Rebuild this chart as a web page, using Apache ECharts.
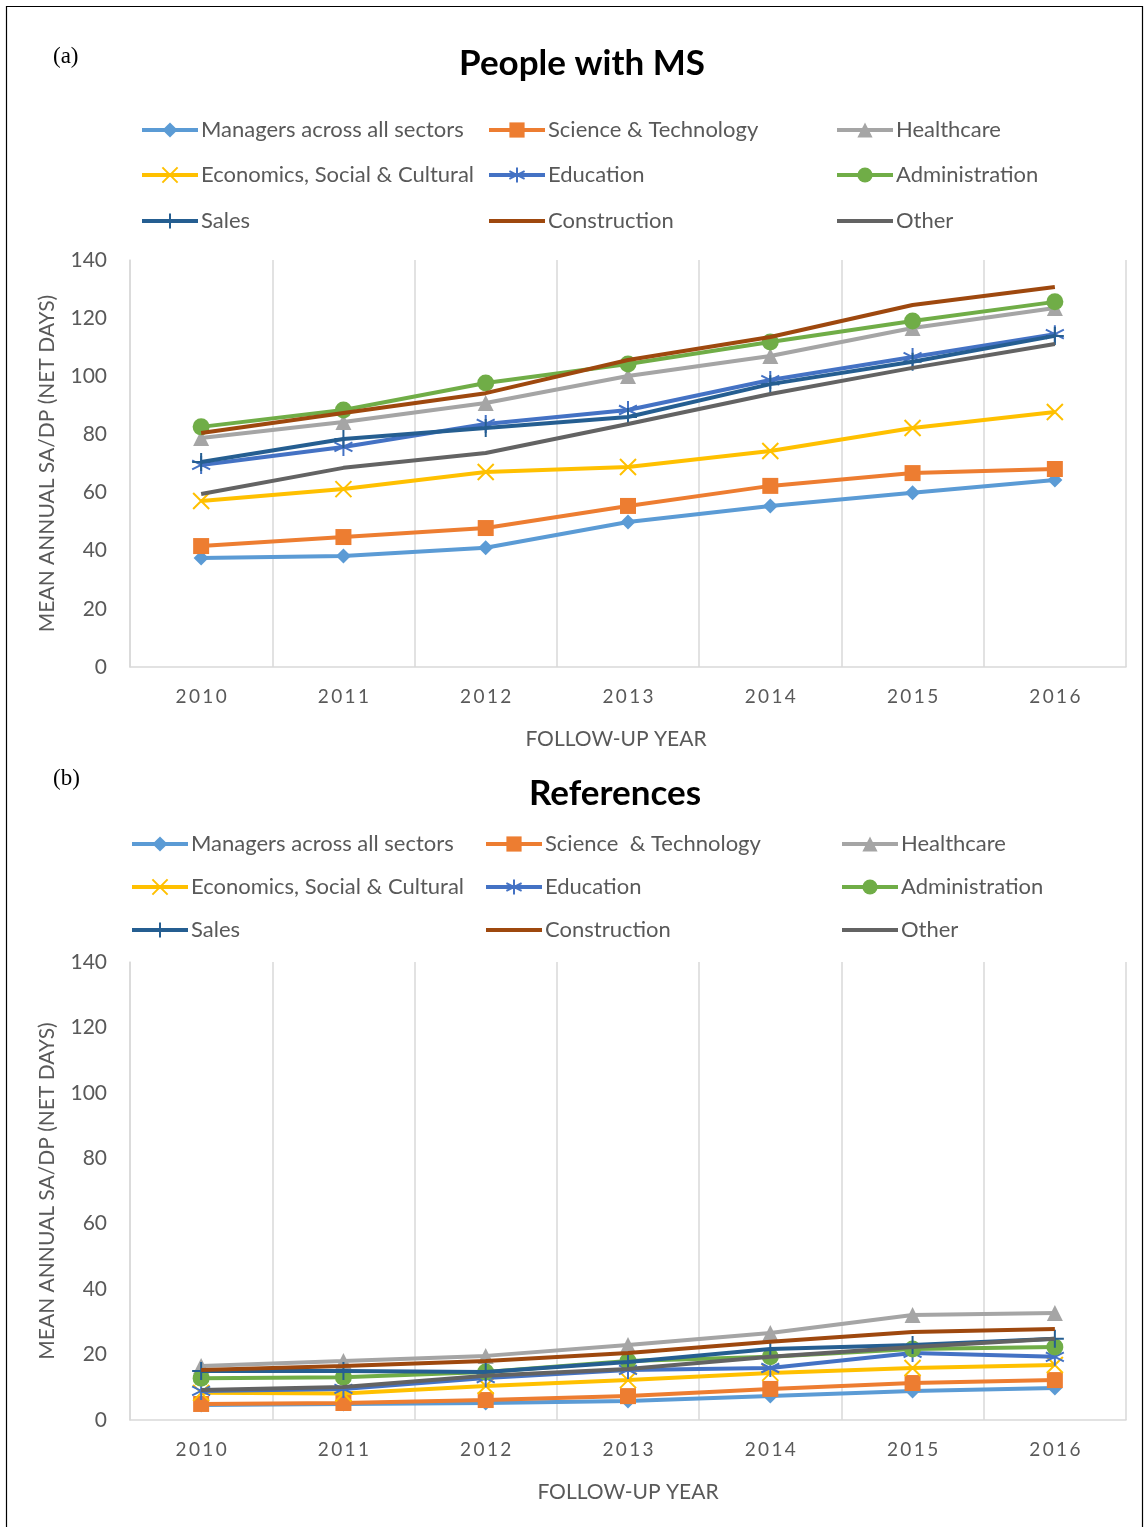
<!DOCTYPE html>
<html>
<head>
<meta charset="utf-8">
<script src="https://cdn.jsdelivr.net/npm/echarts@6/dist/echarts.min.js"></script>
<style>
  html, body { margin: 0; padding: 0; background: #fff; }
  #main { width: 1144px; height: 1527px; }
</style>
</head>
<body>
<div id="main"></div>
<script>
// follow-up years (x axis)
var years = ['2010', '2011', '2012', '2013', '2014', '2015', '2016'];
var yTicks = [0, 20, 40, 60, 80, 100, 120, 140];

// (a) people with MS
var msManagers = [37.5, 38.2, 41.0, 49.9, 55.4, 59.9, 64.3];
var msScience = [41.6, 44.7, 47.8, 55.4, 62.3, 66.7, 68.1];
var msHealthcare = [78.8, 84.3, 90.8, 100.1, 107.0, 116.6, 123.5];
var msEconomics = [57.1, 61.2, 67.1, 68.8, 74.3, 82.2, 87.7];
var msEducation = [69.5, 75.7, 83.6, 88.4, 98.7, 106.6, 114.5];
var msAdministration = [82.6, 88.4, 97.7, 104.2, 111.8, 119.0, 125.6];
var msSales = [70.5, 78.4, 82.2, 86.0, 97.3, 105.0, 113.9];
var msConstruction = [80.5, 87.4, 94.2, 105.6, 113.5, 124.5, 130.7];
var msOther = [59.5, 68.5, 73.6, 83.6, 93.9, 102.9, 111.1];

// (b) references
var refManagers = [4.6, 4.9, 5.2, 5.8, 7.3, 8.9, 9.8];
var refScience = [4.9, 5.2, 6.1, 7.3, 9.5, 11.3, 12.2];
var refHealthcare = [16.5, 18.0, 19.6, 22.9, 26.6, 32.1, 32.7];
var refEconomics = [8.3, 8.1, 10.4, 12.2, 14.4, 15.9, 16.8];
var refEducation = [8.9, 9.5, 12.8, 15.3, 15.9, 20.5, 19.3];
var refAdministration = [12.8, 13.1, 14.7, 18.0, 19.3, 21.7, 22.3];
var refSales = [15.0, 15.0, 14.7, 17.7, 21.7, 22.9, 24.8];
var refConstruction = [15.3, 16.5, 18.0, 20.5, 23.9, 26.9, 27.8];
var refOther = [9.2, 10.1, 13.5, 15.6, 19.3, 22.3, 24.8];

var names = ['Managers across all sectors', 'Science & Technology', 'Healthcare',
  'Economics, Social & Cultural', 'Education', 'Administration',
  'Sales', 'Construction', 'Other'];
var namesRef = names.slice();
namesRef[1] = 'Science  & Technology';

var colors = ['#5B9BD5', '#ED7D31', '#A5A5A5', '#FFC000', '#4472C4', '#70AD47', '#255E91', '#9E480E', '#636363'];

// markers (excel style)
var X_PATH = 'path://M0,0 L10,10 M10,0 L0,10';
var STAR_PATH = 'path://M5,0 L5,10 M0.7,2.5 L9.3,7.5 M0.7,7.5 L9.3,2.5';
var PLUS_PATH = 'path://M5,0 L5,10 M2,5 L8,5';
var markers = [
  { symbol: 'diamond', size: 15 },
  { symbol: 'rect', size: 16 },
  { symbol: 'triangle', size: 16 },
  { symbol: X_PATH, size: 16, stroke: true },
  { symbol: STAR_PATH, size: 18, stroke: true },
  { symbol: 'circle', size: 17 },
  { symbol: PLUS_PATH, size: 18, stroke: true },
  { symbol: 'none', size: 0 },
  { symbol: 'none', size: 0 }
];

var msData = [msManagers, msScience, msHealthcare, msEconomics, msEducation, msAdministration, msSales, msConstruction, msOther];
var refData = [refManagers, refScience, refHealthcare, refEconomics, refEducation, refAdministration, refSales, refConstruction, refOther];

var FONT = 'Lato';
var TXT = '#595959';
var GRID_LINE = '#D9D9D9';

function makeSeries(nameList, data, idx) {
  return data.map(function (vals, i) {
    var m = markers[i];
    var item = m.stroke
      ? { color: 'rgba(0,0,0,0)', borderColor: colors[i], borderWidth: 2 }
      : { color: colors[i] };
    return {
      name: nameList[i],
      type: 'line',
      xAxisIndex: idx,
      yAxisIndex: idx,
      data: vals,
      symbol: m.symbol,
      symbolSize: m.size,
      showAllSymbol: true,
      color: colors[i],
      lineStyle: { color: colors[i], width: 4 },
      itemStyle: item,
      emphasis: { disabled: true },
      z: 2 + i
    };
  });
}

// one legend per item, so the three columns line up like the original
function makeLegends(nameList, colX, rowY) {
  return nameList.map(function (n, i) {
    var noMarker = markers[i].symbol === 'none';
    return {
      data: [n],
      left: colX[i % 3],
      top: rowY[Math.floor(i / 3)] - 11,
      padding: 0,
      itemWidth: 56,
      itemHeight: 19,
      itemGap: 0,
      lineStyle: { width: 4 },
      itemStyle: noMarker ? { opacity: 0 } : {},
      textStyle: { fontFamily: FONT, fontSize: 22, color: TXT, padding: [0, 0, 0, -2] },
      selectedMode: false
    };
  });
}

function xAxisOf(idx, namePad) {
  return {
    type: 'category',
    gridIndex: idx,
    data: years,
    boundaryGap: true,
    axisTick: { show: false },
    axisLine: { show: true, lineStyle: { color: GRID_LINE, width: 1.5 } },
    splitLine: { show: true, lineStyle: { color: GRID_LINE, width: 1.5 } },
    axisLabel: {
      fontFamily: FONT, fontSize: 19, color: TXT, margin: 20,
      formatter: function (v) { return v.split('').join('\u2009'); }
    },
    name: 'FOLLOW-UP YEAR',
    nameLocation: 'middle',
    nameGap: 62,
    nameTextStyle: { fontFamily: FONT, fontSize: 21, color: TXT, padding: namePad }
  };
}

function yAxisOf(idx) {
  return {
    type: 'value',
    gridIndex: idx,
    min: 0,
    max: 140,
    interval: 20,
    axisTick: { show: false },
    axisLine: { show: true, lineStyle: { color: GRID_LINE, width: 1.5 } },
    splitLine: { show: false },
    axisLabel: { fontFamily: FONT, fontSize: 21, color: TXT, margin: 23 },
    name: 'MEAN ANNUAL SA/DP (NET DAYS)',
    nameLocation: 'middle',
    nameGap: 72,
    nameTextStyle: { fontFamily: FONT, fontSize: 21, color: TXT }
  };
}

var myChart = echarts.init(document.getElementById('main'));
var option = {
  backgroundColor: '#fff',
  animation: false,
  title: [
    { text: 'People with MS', left: 577, top: 41, textAlign: 'center',
      textStyle: { fontFamily: FONT, fontSize: 35, fontWeight: 'bold', color: '#000' } },
    { text: 'References', left: 610, top: 771, textAlign: 'center',
      textStyle: { fontFamily: FONT, fontSize: 35, fontWeight: 'bold', color: '#000' } }
  ],
  legend: makeLegends(names, [140, 487, 835], [130, 175, 221])
    .concat(makeLegends(namesRef, [130, 484, 840], [844, 887, 930])),
  grid: [
    { left: 130, right: 18, top: 260, height: 407 },
    { left: 130, right: 18, top: 962, height: 458 }
  ],
  xAxis: [xAxisOf(0, [0, 24, 0, 0]), xAxisOf(1, [0, 0, 0, 0])],
  yAxis: [yAxisOf(0), yAxisOf(1)],
  series: makeSeries(names, msData, 0).concat(makeSeries(namesRef, refData, 1)),
  graphic: [
    // panel letters
    { type: 'text', left: 53, top: 45, style: { text: '(a)', fontFamily: 'Liberation Serif', fontSize: 23, fill: '#000' } },
    { type: 'text', left: 53, top: 767, style: { text: '(b)', fontFamily: 'Liberation Serif', fontSize: 23, fill: '#000' } },
    // outer frame
    { type: 'rect', shape: { x: 6.5, y: 6.5, width: 1136, height: 1530 }, style: { fill: 'none', stroke: '#000', lineWidth: 1.2 }, silent: true }
  ]
};
myChart.setOption(option);
</script>
</body>
</html>
